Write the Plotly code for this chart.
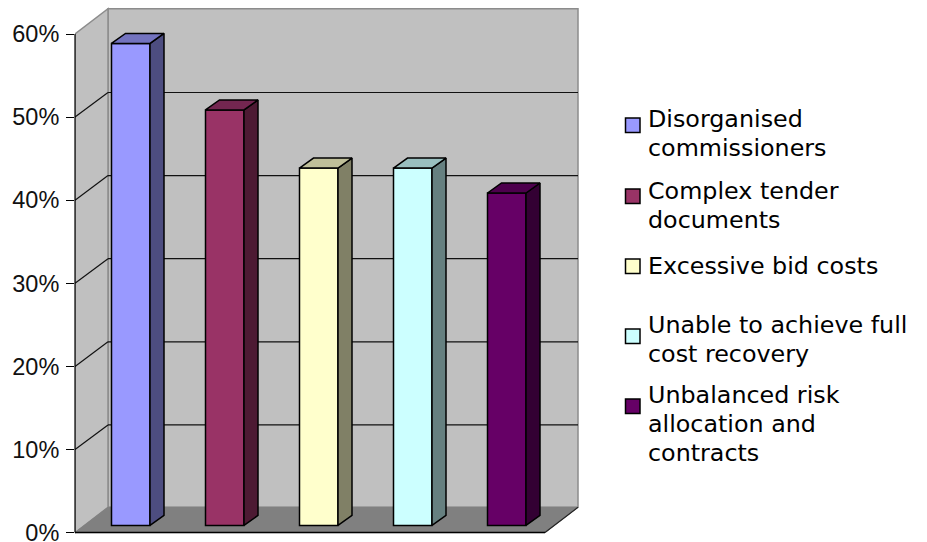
import plotly.graph_objects as go

# Survey results, percent of respondents
categories = [
    "Disorganised commissioners",
    "Complex tender documents",
    "Excessive bid costs",
    "Unable to achieve full cost recovery",
    "Unbalanced risk allocation and contracts",
]
values = [58, 50, 43, 43, 40]
y_ticks = [0, 10, 20, 30, 40, 50, 60]

front_colors = ["#9999FF", "#993366", "#FFFFCC", "#CCFFFF", "#660066"]
side_colors = ["#4D4D80", "#4D1A33", "#808066", "#668080", "#330033"]
top_colors = ["#7373BF", "#732650", "#BFBF99", "#99BFBF", "#4D004D"]

# Legend text broken into lines, with the pixel row of each line and swatch
legend_lines = [
    ["Disorganised", "commissioners"],
    ["Complex tender", "documents"],
    ["Excessive bid costs"],
    ["Unable to achieve full", "cost recovery"],
    ["Unbalanced risk", "allocation and", "contracts"],
]
legend_rows = [[119, 148], [191, 220], [266], [325, 354], [395, 424, 453]]
swatch_tops = [118, 189, 259, 329, 399]

# Frame of the drawing in pixels; the plot area has a little spare room
# around it so the wall outlines are not clipped
WIDTH, HEIGHT = 927, 542
WALL_LEFT, WALL_RIGHT, FLOOR_Y = 75, 578, 532.6
PLOT_LEFT, PLOT_RIGHT, PLOT_TOP, PLOT_BOTTOM = 75, 581, 6, 541
PX_PER_PCT = 8.31      # vertical scale
PX_PER_SLOT = 94.0     # spacing between bars
FIRST_BAR_PX = 130.75  # centre of the first bar


def data_x(px):
    return (px - FIRST_BAR_PX) / PX_PER_SLOT


def data_y(py):
    return (FLOOR_Y - py) / PX_PER_PCT


def paper_x(px):
    return (px - PLOT_LEFT) / (PLOT_RIGHT - PLOT_LEFT)


def paper_y(py):
    return (PLOT_BOTTOM - py) / (PLOT_BOTTOM - PLOT_TOP)


x_front = data_x(WALL_LEFT)
x_right = data_x(WALL_RIGHT)
floor_right = data_x(WALL_LEFT + 470)

# Oblique projection offsets, in axis units
wall_dx, wall_dy = 33 / PX_PER_SLOT, 25.3 / PX_PER_PCT
grid_dy = 24.6 / PX_PER_PCT
bar_dx, bar_dy = 14 / PX_PER_SLOT, 10 / PX_PER_PCT
bar_width = 38.5 / PX_PER_SLOT
bar_base = 7.2 / PX_PER_PCT

positions = list(range(len(categories)))


def polygon(points, fill, line, width=1.5):
    path = "M" + " L".join(f"{x},{y}" for x, y in points) + " Z"
    return dict(type="path", path=path, xref="x", yref="y", layer="below",
                fillcolor=fill, line=dict(color=line, width=width))


def segment(x0, y0, x1, y1, color, width=1.2):
    return dict(type="line", xref="x", yref="y", layer="below", x0=x0, y0=y0,
                x1=x1, y1=y1, line=dict(color=color, width=width))


shapes = [
    # back wall, side wall, floor
    polygon([(x_front + wall_dx, wall_dy), (x_right, wall_dy),
             (x_right, 60 + wall_dy), (x_front + wall_dx, 60 + wall_dy)],
            "#C0C0C0", "#8C8C8C", 1.5),
    polygon([(x_front, 0), (x_front + wall_dx, wall_dy),
             (x_front + wall_dx, 60 + wall_dy), (x_front, 60)],
            "#C0C0C0", "#8C8C8C", 1.5),
    polygon([(x_front, 0), (floor_right, 0), (x_right, wall_dy),
             (x_front + wall_dx, wall_dy)], "#808080", "#808080", 1),
]
for tick in y_ticks[1:-1]:
    shapes.append(segment(x_front, tick, x_front + wall_dx, tick + grid_dy, "#111111"))
    shapes.append(segment(x_front + wall_dx, tick + grid_dy, x_right, tick + grid_dy, "#111111"))

# Value axis line sits on the plot's left edge, so it is placed in paper units
shapes.append(dict(type="line", xref="paper", yref="y", layer="above", x0=0, x1=0,
                   y0=0, y1=60, line=dict(color="#000000", width=1.2)))
shapes.append(segment(x_front, 0, floor_right, 0, "#000000", 1.5))
shapes.append(segment(floor_right, 0, x_right, wall_dy, "#222222", 1.2))

fig = go.Figure()

for pos, name, value, color in zip(positions, categories, values, front_colors):
    fig.add_trace(go.Bar(
        x=[pos], y=[value], base=bar_base, width=bar_width, name=name,
        marker=dict(color=color, line=dict(color="#000000", width=1.5)),
    ))

# Side and top faces follow each bar's height
for pos, value, side, top in zip(positions, values, side_colors, top_colors):
    xl, xr = pos - bar_width / 2, pos + bar_width / 2
    low, high = bar_base, bar_base + value
    fig.add_trace(go.Scatter(
        x=[xr, xr + bar_dx, xr + bar_dx, xr, xr],
        y=[low, low + bar_dy, high + bar_dy, high, low],
        mode="lines", fill="toself", fillcolor=side,
        line=dict(color="#000000", width=1.5), hoverinfo="skip",
    ))
    fig.add_trace(go.Scatter(
        x=[xl, xr, xr + bar_dx, xl + bar_dx, xl],
        y=[high, high, high + bar_dy, high + bar_dy, high],
        mode="lines", fill="toself", fillcolor=top,
        line=dict(color="#000000", width=1.5), hoverinfo="skip",
    ))

annotations = []
for lines, rows in zip(legend_lines, legend_rows):
    for text, row in zip(lines, rows):
        annotations.append(dict(
            text=text, xref="paper", yref="paper", x=paper_x(646), y=paper_y(row),
            xanchor="left", yanchor="middle", showarrow=False, align="left",
            font=dict(family="DejaVu Sans", size=23.8, color="#000000"),
        ))

for color, top_px in zip(front_colors, swatch_tops):
    shapes.append(dict(
        type="rect", xref="paper", yref="paper", layer="above",
        x0=paper_x(625.5), x1=paper_x(640), y0=paper_y(top_px), y1=paper_y(top_px + 14.5),
        fillcolor=color, line=dict(color="#000000", width=1.5),
    ))

fig.update_layout(
    width=WIDTH, height=HEIGHT, showlegend=False,
    margin=dict(l=PLOT_LEFT, r=WIDTH - PLOT_RIGHT, t=PLOT_TOP, b=HEIGHT - PLOT_BOTTOM,
                autoexpand=False),
    paper_bgcolor="#FFFFFF", plot_bgcolor="#FFFFFF",
    shapes=shapes, annotations=annotations,
    xaxis=dict(range=[data_x(PLOT_LEFT), data_x(PLOT_RIGHT)], visible=False, fixedrange=True),
    yaxis=dict(
        range=[data_y(PLOT_BOTTOM), data_y(PLOT_TOP)], tickmode="array", tickvals=y_ticks,
        ticktext=[f"{t}%" for t in y_ticks], ticks="outside", ticklen=8,
        tickwidth=1, tickcolor="#000000", showgrid=False, zeroline=False,
        showline=False, fixedrange=True, ticklabelstandoff=2, ticklabeloverflow="allow",
        tickfont=dict(family="Liberation Sans", size=23.5, color="#111111"),
    ),
)

fig.write_html("out.html", config=dict(displayModeBar=False))
